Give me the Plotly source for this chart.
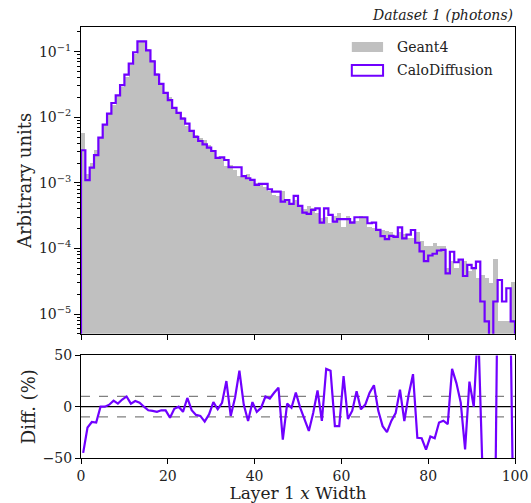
import numpy as np
import plotly.graph_objects as go

# Layer 1 x-width distribution, 100 unit-width bins from 0 to 100
bin_edges = list(range(0, 101))

geant4 = [
    5.71e-3, 1.38e-3, 2.01e-3, 3.12e-3, 4.89e-3, 7.70e-3, 1.113e-2, 1.557e-2, 2.097e-2, 2.897e-2,
    4.055e-2, 6.369e-2, 9.289e-2, 0.1385, 0.144, 0.1088, 7.427e-2, 4.695e-2, 3.347e-2, 2.446e-2,
    2.038e-2, 1.418e-2, 1.164e-2, 1.003e-2, 7.355e-3, 6.40e-3, 5.446e-3, 4.78e-3, 4.53e-3, 3.72e-3,
    2.93e-3, 2.46e-3, 2.36e-3, 1.784e-3, 1.901e-3, 1.587e-3, 1.281e-3, 1.245e-3, 1.366e-3, 1.062e-3,
    9.78e-4, 9.72e-4, 8.75e-4, 7.39e-4, 6.47e-4, 6.20e-4, 7.62e-4, 5.32e-4, 4.82e-4, 5.55e-4,
    4.49e-4, 4.00e-4, 4.40e-4, 4.11e-4, 3.53e-4, 2.88e-4, 2.99e-4, 2.40e-4, 3.16e-4, 3.44e-4,
    2.15e-4, 3.17e-4, 2.58e-4, 2.60e-4, 3.07e-4, 2.93e-4, 2.13e-4, 2.05e-4, 2.00e-4, 1.90e-4,
    1.85e-4, 1.80e-4, 1.60e-4, 1.80e-4, 1.65e-4, 1.45e-4, 1.45e-4, 1.75e-4, 1.30e-4, 1.10e-4,
    1.10e-4, 1.20e-4, 1.10e-4, 1.10e-4, 5.0e-5, 6.5e-5, 5.0e-5, 6.5e-5, 6.5e-5, 4.5e-5,
    5.0e-5, 3.5e-5, 4.0e-5, 3.5e-5, 3.0e-5, 6.8e-5, 7.7e-6, 7.7e-6, 7.7e-6, 3.1e-5,
]

calodiffusion = [
    3.14e-3, 1.10e-3, 1.71e-3, 2.64e-3, 4.89e-3, 7.70e-3, 1.135e-2, 1.65e-2, 2.16e-2, 3.10e-2,
    4.46e-2, 6.56e-2, 9.80e-2, 0.144, 0.144, 0.105, 7.13e-2, 4.46e-2, 3.23e-2, 2.36e-2,
    1.82e-2, 1.39e-2, 1.164e-2, 9.53e-3, 7.98e-3, 6.18e-3, 5.01e-3, 4.35e-3, 3.87e-3, 3.44e-3,
    3.06e-3, 2.40e-3, 2.45e-3, 2.23e-3, 1.73e-3, 1.73e-3, 1.73e-3, 1.27e-3, 1.175e-3, 1.11e-3,
    9.29e-4, 9.62e-4, 9.62e-4, 7.98e-4, 7.35e-4, 7.35e-4, 5.18e-4, 5.48e-4, 4.77e-4, 6.31e-4,
    4.45e-4, 3.52e-4, 3.36e-4, 3.86e-4, 4.09e-4, 2.48e-4, 4.09e-4, 3.24e-4, 2.56e-4, 2.79e-4,
    2.79e-4, 2.79e-4, 2.48e-4, 2.99e-4, 2.99e-4, 2.99e-4, 2.42e-4, 2.48e-4, 1.92e-4, 1.54e-4,
    1.39e-4, 1.55e-4, 1.50e-4, 2.10e-4, 1.42e-4, 1.62e-4, 1.91e-4, 1.22e-4, 9.0e-5, 6.4e-5,
    7.8e-5, 8.3e-5, 9.3e-5, 9.5e-5, 4.15e-5, 8.9e-5, 6.15e-5, 6.76e-5, 3.8e-5, 5.6e-5,
    5.0e-5, 6.3e-5, 1.55e-5, 7.7e-6, 0.0, 1.55e-5, 3.3e-5, 1.55e-5, 2.47e-5, 7.7e-6,
]

x_ticks = [0, 20, 40, 60, 80, 100]
y_major = [1e-5, 1e-4, 1e-3, 1e-2, 1e-1]
y_major_text = ["10<sup>\u22125</sup>", "10<sup>\u22124</sup>", "10<sup>\u22123</sup>",
                "10<sup>\u22122</sup>", "10<sup>\u22121</sup>"]
diff_ticks = [-50, 0, 50]
diff_tick_text = ["\u221250", "0", "50"]

PURPLE = "#7000ff"
GREY = "#c0c0c0"
FONT = "DejaVu Serif"
INK = "#222222"

edges = np.array(bin_edges, dtype=float)
centers = 0.5 * (edges[:-1] + edges[1:])
ref = np.array(geant4)
gen = np.array(calodiffusion)

# relative difference of the generated histogram to the reference, in percent
diff = (gen - ref) / ref * 100.0

# step outline of the generated histogram, dropping to the bottom at both ends
floor = 1e-9
step_x = np.concatenate([[edges[0]], edges[:-1], [edges[-1], edges[-1]]])
step_y = np.concatenate([[floor], np.maximum(gen, floor), [max(gen[-1], floor), floor]])

fig = go.Figure()
fig.add_trace(go.Bar(x=centers, y=ref, width=1.0, marker=dict(color=GREY, line=dict(width=0)),
                     name="Geant4", showlegend=False, xaxis="x", yaxis="y"))
fig.add_trace(go.Scatter(x=step_x, y=step_y, mode="lines", line=dict(color=PURPLE, width=2.2, shape="hv"),
                         name="CaloDiffusion", showlegend=False, xaxis="x", yaxis="y"))
fig.add_trace(go.Scatter(x=centers, y=diff, mode="lines", line=dict(color=PURPLE, width=2.2),
                         showlegend=False, xaxis="x2", yaxis="y2"))

minor_vals = [m * 10.0 ** k for k in range(-6, 0) for m in range(2, 10)]

axis_common = dict(showline=True, mirror=True, linecolor="black", linewidth=1, showgrid=False,
                   zeroline=False, ticks="outside", tickcolor="black", tickwidth=1, automargin=False,
                   tickfont=dict(family=FONT, size=14, color=INK))

fig.update_layout(
    width=531, height=503,
    margin=dict(l=81, r=16, t=27, b=45),
    paper_bgcolor="white", plot_bgcolor="white",
    bargap=0,
    font=dict(family=FONT, color=INK),
    xaxis=dict(axis_common, domain=[0, 1], range=[0, 100], tickvals=x_ticks, showticklabels=False,
               ticklen=5, anchor="y"),
    yaxis=dict(axis_common, domain=[0.288, 1], type="log", range=[-5.303, -0.6235],
               tickvals=y_major, ticktext=y_major_text, ticklen=6,
               minor=dict(tickvals=minor_vals, ticks="outside", ticklen=3.5, tickcolor="black", tickwidth=0.8),
               title=dict(text="Arbitrary units", font=dict(family=FONT, size=18, color=INK), standoff=2),
               anchor="x"),
    xaxis2=dict(axis_common, domain=[0, 1], range=[0, 100], tickvals=x_ticks, ticklen=5,
                title=dict(text="Layer 1 <i>x</i> Width", font=dict(family=FONT, size=17, color=INK), standoff=9),
                anchor="y2"),
    yaxis2=dict(axis_common, domain=[0, 0.238], range=[-50, 50], tickvals=diff_ticks,
                ticktext=diff_tick_text, ticklen=5,
                title=dict(text="Diff. (%)", font=dict(family=FONT, size=18, color=INK), standoff=2),
                anchor="x2"),
)

# reference lines in the ratio panel
fig.add_shape(type="line", xref="x2 domain", yref="y2", x0=0, x1=1, y0=0, y1=0,
              line=dict(color="black", width=1.3), layer="below")
for lvl in (-10, 10):
    fig.add_shape(type="line", xref="x2 domain", yref="y2", x0=0, x1=1, y0=lvl, y1=lvl,
                  line=dict(color="#808080", width=1.3, dash="dash"), layer="below")

# legend drawn as patches with labels
fig.add_shape(type="rect", xref="paper", yref="paper", x0=0.624, x1=0.696, y0=0.942, y1=0.965,
              fillcolor=GREY, line=dict(width=0))
fig.add_shape(type="rect", xref="paper", yref="paper", x0=0.624, x1=0.696, y0=0.887, y1=0.912,
              fillcolor="white", line=dict(color=PURPLE, width=2))
fig.add_annotation(text="Geant4", xref="paper", yref="paper", x=0.723, y=0.953, xanchor="left",
                   yanchor="middle", showarrow=False, font=dict(family=FONT, size=14, color=INK))
fig.add_annotation(text="CaloDiffusion", xref="paper", yref="paper", x=0.723, y=0.900, xanchor="left",
                   yanchor="middle", showarrow=False, font=dict(family=FONT, size=14, color=INK))

fig.add_annotation(text="<i>Dataset 1 (photons)</i>", xref="paper", yref="paper", x=1, y=1,
                   xanchor="right", yanchor="bottom", yshift=2, showarrow=False,
                   font=dict(family=FONT, size=14, color=INK))

fig.write_html("out.html")
